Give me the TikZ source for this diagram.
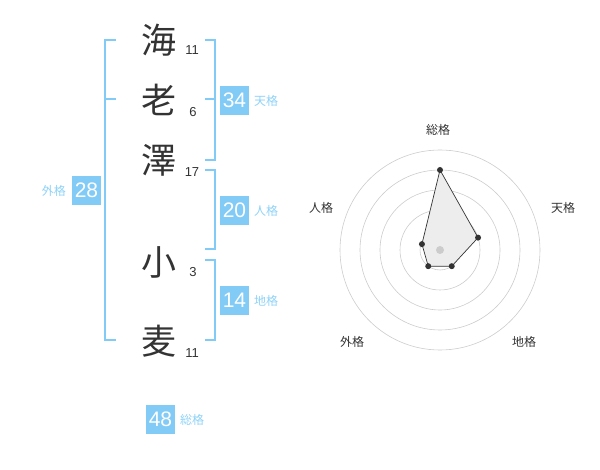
\documentclass[tikz,border=0pt]{standalone}
\usepackage{fontspec}
\setmainfont{Liberation Sans}
\newfontfamily\cjk{Noto Sans CJK JP}
\definecolor{bl}{HTML}{82CBF7}
\definecolor{bltxt}{HTML}{8ED2F8}
\definecolor{ink}{HTML}{333333}
\definecolor{ring}{HTML}{CCCCCC}
\tikzset{
  kanji/.style={inner sep=0pt, font=\cjk\fontsize{35}{35}\selectfont, text=ink},
  strokes/.style={inner sep=0pt, font=\fontsize{13}{13}\selectfont, text=ink},
  brk/.style={draw=bl, line width=2pt},
  numbox/.style={fill=bl, text=white, minimum width=29pt, minimum height=29pt, inner sep=0pt, font=\fontsize{21}{21}\selectfont},
  kaku/.style={inner sep=0pt, text=bltxt, font=\cjk\fontsize{12}{12}\selectfont},
  axlab/.style={inner sep=0pt, text=ink, font=\cjk\fontsize{12}{12}\selectfont},
  pt/.style={circle, fill=ink, inner sep=0pt, minimum size=6pt},
}
\begin{document}
\begin{tikzpicture}[x=1pt,y=-1pt]
\useasboundingbox (0,0) rectangle (600,470);
% characters
\node[kanji] (c1) at (159,40) {海};
\node[kanji] (c2) at (159,100) {老};
\node[kanji] (c3) at (159,160) {澤};
\node[kanji] (c4) at (159,262) {小};
\node[kanji] (c5) at (159,341) {麦};
\node[strokes] (s1) at (192,50) {11};
\node[strokes] (s2) at (193,112) {6};
\node[strokes] (s3) at (192,172) {17};
\node[strokes] (s4) at (193,272) {3};
\node[strokes] (s5) at (192,353) {11};
% left bracket (gaikaku)
\draw[brk] (116,40) -- (105,40) -- (105,340) -- (116,340);
\draw[brk] (105,99) -- (116,99);
% right brackets
\draw[brk] (205,40) -- (215,40) -- (215,160) -- (205,160);
\draw[brk] (205,99) -- (215,99);
\draw[brk] (205,170) -- (215,170) -- (215,249) -- (205,249);
\draw[brk] (205,260) -- (215,260) -- (215,340) -- (205,340);
% boxes
\node[numbox] (b28) at (86.5,190.5) {28};
\node[kaku, anchor=east] (l28) at (66,191) {外格};
\node[numbox] (b34) at (234.5,100.5) {34};
\node[kaku, anchor=west] (l34) at (254,101) {天格};
\node[numbox] (b20) at (234.5,210.5) {20};
\node[kaku, anchor=west] (l20) at (254,211) {人格};
\node[numbox] (b14) at (234.5,300.5) {14};
\node[kaku, anchor=west] (l14) at (254,301) {地格};
\node[numbox] (b48) at (160.5,419) {48};
\node[kaku, anchor=west] (l48) at (180,420) {総格};
% radar
\begin{scope}[shift={(440,250)}, y=1pt]
  \foreach \r in {20,40,60,80,100} \draw[ring, line width=0.6pt] (0,0) circle (\r);
  \coordinate (rc) at (0,0);
  \coordinate (p1) at (90:80);
  \coordinate (p2) at (18:40);
  \coordinate (p3) at (-54:20);
  \coordinate (p4) at (-126:20);
  \coordinate (p5) at (162:19);
  \fill[black!7] (p1) -- (p2) -- (p3) -- (p4) -- (p5) -- cycle;
  \draw[ink, line width=0.7pt] (p1) -- (p2) -- (p3) -- (p4) -- (p5) -- cycle;
  \fill[ring] (rc) circle (4);
  \foreach \p in {p1,p2,p3,p4,p5} \node[pt] at (\p) {};
\end{scope}
\node[axlab] (a1) at (438,130) {総格};
\node[axlab] (a2) at (563,208) {天格};
\node[axlab] (a3) at (321,208) {人格};
\node[axlab] (a4) at (352,342) {外格};
\node[axlab] (a5) at (524,342) {地格};
\end{tikzpicture}
\end{document}
